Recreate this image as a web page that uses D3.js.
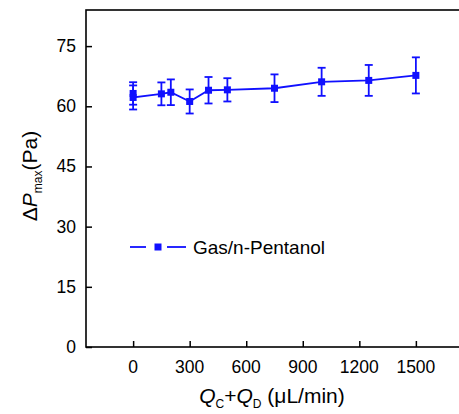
<!DOCTYPE html>
<html>
<head>
<meta charset="utf-8">
<script src="https://cdn.jsdelivr.net/npm/d3@7"></script>
<style>
  body { margin: 0; background: #fff; overflow: hidden; }
  text { font-family: Arial, "Liberation Sans", sans-serif; }
</style>
</head>
<body>
<div id="chart"></div>
<script>
// flow rate Qc+Qd (uL/min), measured dPmax (Pa) and error
var flowRates = [0, 0, 150, 200, 300, 400, 500, 750, 1000, 1250, 1500];
var pressures = [63.2, 62.2, 63.1, 63.5, 61.2, 64.0, 64.1, 64.5, 66.1, 66.45, 67.7];
var errors = [2.8, 3.0, 2.85, 3.2, 3.0, 3.3, 2.9, 3.45, 3.5, 3.85, 4.5];
var xTicks = [0, 300, 600, 900, 1200, 1500];
var yTicks = [0, 15, 30, 45, 60, 75];
var seriesName = "Gas/n-Pentanol";

var w = 459, h = 414;
var margin = {top: 10, left: 86, bottom: 67};
var plotRight = 463;
var blue = "#1010ff";

var svg = d3.select("#chart").append("svg")
  .attr("width", w)
  .attr("height", h);

var x = d3.scaleLinear().domain([-250, 1750]).range([margin.left, plotRight]);
var y = d3.scaleLinear().domain([0, 84]).range([h - margin.bottom, margin.top]);

// frame (right side runs past the picture edge)
svg.append("rect")
  .attr("x", margin.left).attr("y", margin.top)
  .attr("width", plotRight + 20 - margin.left)
  .attr("height", h - margin.bottom - margin.top)
  .attr("fill", "none").attr("stroke", "#000").attr("stroke-width", 1.6);

// axes, ticks pointing inward
var xAxis = svg.append("g")
  .attr("transform", "translate(0," + (h - margin.bottom) + ")")
  .call(d3.axisTop(x).tickValues(xTicks).tickSize(6).tickFormat(""));
var yAxis = svg.append("g")
  .attr("transform", "translate(" + margin.left + ",0)")
  .call(d3.axisRight(y).tickValues(yTicks).tickSize(6).tickFormat(""));
svg.selectAll(".domain").remove();
svg.selectAll(".tick line").attr("stroke", "#000").attr("stroke-width", 1.5);

svg.selectAll("text.xlab").data(xTicks).enter().append("text")
  .attr("x", function(d){ return x(d) })
  .attr("y", h - margin.bottom + 26)
  .attr("text-anchor", "middle")
  .style("font-size", "17.5px")
  .text(function(d){ return d });

svg.selectAll("text.ylab").data(yTicks).enter().append("text")
  .attr("x", margin.left - 10)
  .attr("y", function(d){ return y(d) + 6 })
  .attr("text-anchor", "end")
  .style("font-size", "17.5px")
  .text(function(d){ return d });

// axis titles
var xt = svg.append("text")
  .attr("x", 272).attr("y", 403)
  .attr("text-anchor", "middle")
  .style("font-size", "21px");
xt.append("tspan").style("font-style", "italic").text("Q");
xt.append("tspan").attr("dy", 5).style("font-size", "12px").text("C");
xt.append("tspan").attr("dy", -5).text("+");
xt.append("tspan").style("font-style", "italic").text("Q");
xt.append("tspan").attr("dy", 5).style("font-size", "12px").text("D");
xt.append("tspan").attr("dy", -5).text(" (\u03BCL/min)");

var yt = svg.append("text")
  .attr("transform", "translate(37,176) rotate(-90)")
  .attr("text-anchor", "middle")
  .style("font-size", "21px");
yt.append("tspan").text("\u0394");
yt.append("tspan").style("font-style", "italic").text("P");
yt.append("tspan").attr("dy", 5).style("font-size", "12px").text("max");
yt.append("tspan").attr("dy", -5).text("(Pa)");

// data line
var pts = flowRates.map(function(d, i){ return {q: d, p: pressures[i], e: errors[i]} });
var line = d3.line().x(function(d){ return x(d.q) }).y(function(d){ return y(d.p) });
svg.append("path")
  .datum(pts)
  .attr("d", line)
  .attr("fill", "none")
  .attr("stroke", blue)
  .attr("stroke-width", 1.8);

// error bars
var eb = svg.selectAll("g.err").data(pts).enter().append("g").attr("class", "err")
  .attr("stroke", blue).attr("stroke-width", 1.8);
eb.append("line")
  .attr("x1", function(d){ return x(d.q) }).attr("x2", function(d){ return x(d.q) })
  .attr("y1", function(d){ return y(d.p + d.e) }).attr("y2", function(d){ return y(d.p - d.e) });
eb.append("line")
  .attr("x1", function(d){ return x(d.q) - 4 }).attr("x2", function(d){ return x(d.q) + 4 })
  .attr("y1", function(d){ return y(d.p + d.e) }).attr("y2", function(d){ return y(d.p + d.e) });
eb.append("line")
  .attr("x1", function(d){ return x(d.q) - 4 }).attr("x2", function(d){ return x(d.q) + 4 })
  .attr("y1", function(d){ return y(d.p - d.e) }).attr("y2", function(d){ return y(d.p - d.e) });

// markers
svg.selectAll("rect.pt").data(pts).enter().append("rect")
  .attr("class", "pt")
  .attr("x", function(d){ return x(d.q) - 3.5 })
  .attr("y", function(d){ return y(d.p) - 3.5 })
  .attr("width", 7).attr("height", 7)
  .attr("fill", blue);

// legend
var lg = svg.append("g").attr("transform", "translate(130,247)");
lg.append("line").attr("x1", 0).attr("x2", 16).attr("stroke", blue).attr("stroke-width", 1.8);
lg.append("line").attr("x1", 37).attr("x2", 56).attr("stroke", blue).attr("stroke-width", 1.8);
lg.append("rect").attr("x", 24.5).attr("y", -3.5).attr("width", 7).attr("height", 7).attr("fill", blue);
lg.append("text").attr("x", 63).attr("y", 7).style("font-size", "19px").text(seriesName);
</script>
</body>
</html>
